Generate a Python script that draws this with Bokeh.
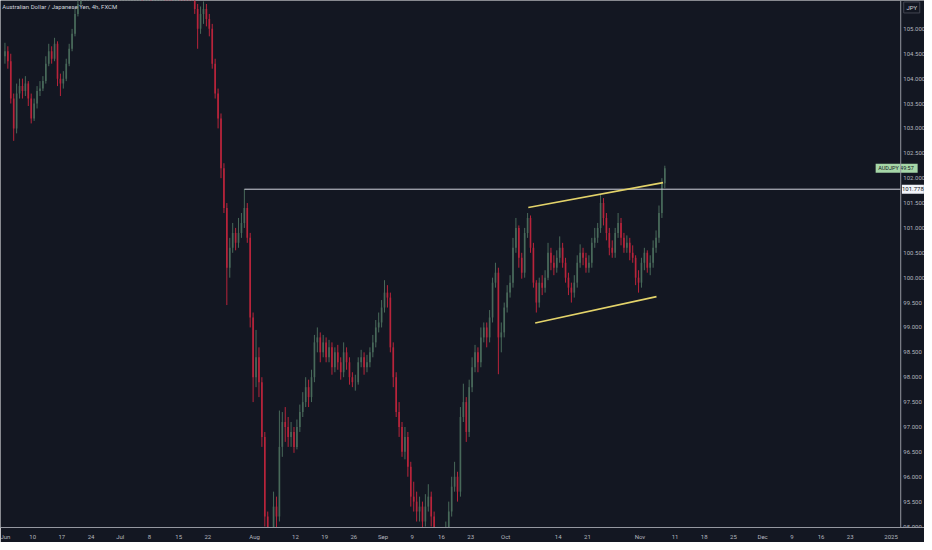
from bokeh.plotting import figure
from bokeh.models import LinearAxis, FixedTicker, Range1d, ColumnDataSource, Span
from bokeh.core.properties import value
from bokeh.embed import file_html
from bokeh.resources import INLINE

# ---- data: AUDJPY, half-day (12h) bars, 3 Jun 2024 -> 7 Nov 2024 ----
first_open = 104.45
close = [
    104.55, 104.35, 103.60, 103.00, 103.70, 103.85, 103.75, 103.90, 103.60, 103.20,
    103.50, 103.75, 103.80, 103.95, 104.30, 104.55, 104.40, 104.70, 104.00, 103.90,
    104.00, 104.30, 104.60, 104.90, 105.30, 105.50, 105.90, 106.00, 106.20, 106.30,
    106.30, 106.50, 106.40, 106.60, 106.80, 107.00, 106.90, 107.10, 107.20, 107.00,
    107.50, 107.70, 107.80, 108.00, 108.20, 108.40, 108.60, 108.50, 108.70, 108.80,
    108.60, 108.80, 109.00, 109.20, 109.30, 108.90, 108.50, 108.30, 108.60, 108.90,
    108.40, 108.00, 107.50, 106.80, 106.20, 105.40, 105.00, 105.30, 105.40, 105.20,
    105.00, 104.30, 103.70, 103.20, 102.20, 101.40, 100.20, 100.60, 100.90, 100.70,
    100.90, 101.10, 101.40, 100.80, 99.20, 98.00, 98.40, 97.90, 96.80, 95.20,
    94.00, 94.60, 95.40, 95.20, 96.60, 97.10, 97.00, 96.80, 96.90, 96.60,
    97.00, 97.30, 97.50, 97.80, 97.60, 98.00, 98.70, 98.80, 98.50, 98.70,
    98.40, 98.60, 98.20, 98.50, 98.30, 98.10, 98.50, 98.30, 98.00, 97.90,
    97.90, 98.30, 98.40, 98.20, 98.30, 98.50, 98.70, 99.00, 99.10, 99.40,
    99.70, 99.60, 98.60, 98.00, 97.30, 97.00, 96.50, 96.80, 96.20, 95.60,
    95.50, 95.30, 95.40, 95.10, 95.40, 95.60, 95.20, 94.80, 94.60, 94.70,
    94.50, 94.90, 95.30, 95.80, 96.00, 95.70, 97.20, 97.50, 96.90, 97.80,
    98.20, 98.50, 98.30, 98.80, 99.00, 98.80, 99.20, 99.90, 100.10, 98.80,
    98.90, 99.40, 99.70, 99.90, 100.60, 101.00, 100.40, 100.10, 100.90, 101.20,
    100.60, 99.90, 99.50, 99.90, 99.80, 100.00, 100.50, 100.30, 100.20, 100.40,
    100.60, 100.30, 100.00, 99.80, 99.70, 99.90, 100.30, 100.50, 100.40, 100.20,
    100.30, 100.70, 100.80, 101.00, 101.50, 101.20, 100.90, 100.60, 100.50, 100.90,
    101.10, 100.80, 100.60, 100.70, 100.50, 100.40, 100.00, 99.90, 100.30, 100.50,
    100.20, 100.30, 100.60, 100.80, 101.30, 101.90, 102.20,
]
high = [
    104.72, 104.65, 104.50, 103.70, 103.90, 104.00, 104.00, 104.05, 103.95, 103.70,
    103.60, 103.85, 103.95, 104.05, 104.45, 104.70, 104.65, 104.82, 104.75, 104.10,
    104.15, 104.40, 104.70, 105.00, 105.40, 105.65, 106.00, 106.15, 106.35, 106.45,
    106.50, 106.60, 106.65, 106.70, 106.90, 107.10, 107.15, 107.20, 107.35, 107.30,
    107.60, 107.80, 107.95, 108.10, 108.30, 108.50, 108.70, 108.75, 108.80, 108.95,
    108.90, 108.90, 109.10, 109.30, 109.40, 109.35, 109.00, 108.60, 108.70, 109.00,
    108.95, 108.50, 108.10, 107.60, 106.90, 106.30, 105.50, 105.45, 105.55, 105.50,
    105.30, 105.10, 104.40, 103.80, 103.30, 102.30, 101.50, 100.80, 101.10, 101.00,
    101.20, 101.30, 101.78, 101.50, 100.90, 99.30, 98.95, 98.60, 98.00, 96.90,
    95.30, 94.90, 95.70, 95.60, 97.33, 97.30, 97.40, 97.20, 97.10, 97.00,
    97.15, 97.45, 97.70, 98.00, 97.95, 98.15, 98.85, 99.00, 98.90, 98.85,
    98.80, 98.75, 98.70, 98.60, 98.65, 98.40, 98.70, 98.60, 98.40, 98.10,
    98.05, 98.40, 98.55, 98.50, 98.45, 98.60, 98.85, 99.15, 99.30, 99.55,
    99.95, 99.85, 99.70, 98.70, 98.10, 97.50, 97.10, 97.00, 96.90, 96.30,
    95.90, 95.70, 95.60, 95.50, 95.65, 95.85, 95.70, 95.30, 94.90, 94.90,
    94.80, 95.10, 95.50, 96.00, 96.30, 96.10, 97.40, 97.87, 97.60, 97.95,
    98.40, 98.65, 98.60, 99.00, 99.10, 99.10, 99.35, 100.00, 100.30, 100.20,
    99.10, 99.50, 99.85, 100.05, 100.80, 101.20, 101.05, 100.50, 101.00, 101.30,
    101.25, 100.70, 99.95, 100.00, 100.05, 100.15, 100.70, 100.60, 100.45, 100.55,
    100.83, 100.70, 100.40, 100.10, 99.90, 100.05, 100.45, 100.67, 100.60, 100.50,
    100.45, 100.80, 101.00, 101.10, 101.66, 101.60, 101.30, 101.00, 100.75, 101.00,
    101.30, 101.20, 100.90, 100.85, 100.80, 100.65, 100.45, 100.15, 100.40, 100.60,
    100.55, 100.45, 100.75, 100.95, 101.45, 102.00, 102.25,
]
low = [
    104.30, 104.20, 103.50, 102.75, 102.90, 103.60, 103.60, 103.65, 103.45, 103.10,
    103.15, 103.40, 103.65, 103.75, 103.90, 104.25, 104.30, 104.35, 103.85, 103.65,
    103.80, 103.95, 104.25, 104.55, 104.85, 105.25, 105.45, 105.80, 105.95, 106.10,
    106.10, 106.20, 106.30, 106.35, 106.50, 106.75, 106.80, 106.85, 107.00, 106.90,
    106.95, 107.40, 107.60, 107.70, 107.90, 108.10, 108.30, 108.40, 108.40, 108.60,
    108.50, 108.50, 108.70, 108.90, 109.10, 108.80, 108.40, 108.10, 108.20, 108.50,
    108.30, 107.90, 107.40, 106.70, 106.00, 105.30, 104.60, 104.90, 105.10, 105.05,
    104.85, 104.20, 103.60, 103.00, 102.00, 101.30, 99.45, 100.00, 100.50, 100.55,
    100.60, 100.80, 101.00, 100.70, 99.00, 97.50, 97.80, 97.60, 96.60, 95.00,
    93.00, 93.60, 94.40, 94.90, 95.10, 96.40, 96.70, 96.60, 96.60, 96.48,
    96.55, 96.90, 97.20, 97.40, 97.40, 97.50, 97.90, 98.50, 98.30, 98.40,
    98.30, 98.30, 98.05, 98.10, 98.15, 97.95, 98.00, 98.15, 97.85, 97.80,
    97.73, 97.85, 98.20, 98.05, 98.10, 98.20, 98.40, 98.60, 98.90, 99.00,
    99.30, 99.40, 98.50, 97.80, 97.20, 96.80, 96.40, 96.35, 96.00, 95.40,
    95.30, 95.10, 95.10, 94.90, 95.00, 95.30, 95.00, 94.60, 94.40, 94.50,
    94.30, 94.40, 94.80, 95.20, 95.70, 95.50, 95.60, 97.10, 96.70, 96.80,
    97.70, 98.10, 98.10, 98.20, 98.70, 98.60, 98.70, 99.10, 99.80, 98.06,
    98.50, 98.80, 99.30, 99.60, 99.80, 100.50, 100.20, 99.98, 100.00, 100.80,
    100.50, 99.80, 99.30, 99.40, 99.65, 99.70, 99.95, 100.15, 100.05, 100.10,
    100.30, 100.20, 99.90, 99.65, 99.50, 99.60, 99.80, 100.20, 100.25, 100.10,
    100.10, 100.20, 100.60, 100.70, 100.90, 101.05, 100.75, 100.45, 100.40, 100.40,
    100.80, 100.65, 100.50, 100.50, 100.35, 100.30, 99.85, 99.70, 99.80, 100.15,
    100.10, 100.05, 100.20, 100.50, 100.70, 101.20, 101.80,
]

# drawings (x in trading days since Mon 3 Jun 2024)
hline_price = 101.778
hline_start = 41.26
upper_channel_x = [89.87, 112.95]
upper_channel_y = [101.41, 101.91]
lower_channel_x = [91.05, 111.83]
lower_channel_y = [99.09, 99.62]

# time axis labels (trading-day index -> label)
x_tick_days = [0, 5, 10, 15, 20, 25, 30, 35, 43, 50, 55, 60, 65, 70, 75, 80,
               86, 95, 100, 109, 115, 120, 125, 130, 135, 140, 145, 152]
x_tick_labels = ["Jun", "10", "17", "24", "Jul", "8", "15", "22", "Aug", "12", "19", "26",
                 "Sep", "9", "16", "23", "Oct", "14", "21", "Nov", "11", "18", "25",
                 "Dec", "9", "16", "23", "2025"]
y_ticks = [95.0, 95.5, 96.0, 96.5, 97.0, 97.5, 98.0, 98.5, 99.0, 99.5, 100.0,
           100.5, 101.0, 101.5, 102.0, 102.5, 103.0, 103.5, 104.0, 104.5, 105.0]

title_text = "Australian Dollar / Japanese Yen, 4h, FXCM"
symbol = "AUDJPY"
countdown = "49:57"
currency = "JPY"

# ---- layout constants ----
BG = "#131722"
UP = "#48695a"
DOWN = "#b8243b"
TXT = "#b2b5be"
LINE = "#9598a1"
FONT = value("Roboto")
X0, X_AXIS, X1 = -0.51, 153.65, 157.72      # left edge, price-scale border, right edge
Y0, Y1 = 94.98, 105.57

n = len(close)
opens = [first_open] + close[:-1]
xs = [0.25 + 0.5 * i for i in range(n)]
colors = [UP if c >= o else DOWN for o, c in zip(opens, close)]
src = ColumnDataSource(dict(
    x=xs, open=opens, close=close, high=high, low=low,
    top=[max(o, c) for o, c in zip(opens, close)],
    bottom=[min(o, c) for o, c in zip(opens, close)],
    color=colors))

p = figure(width=924, height=542, output_backend="svg", toolbar_location=None,
           x_range=Range1d(X0, X1), y_range=Range1d(Y0, Y1),
           x_axis_type=None, y_axis_type=None,
           min_border_left=0, min_border_top=0, min_border_right=0, min_border_bottom=0)
p.background_fill_color = BG
p.border_fill_color = BG
p.outline_line_color = None
p.xgrid.visible = False
p.ygrid.visible = False

# candles
p.segment(x0="x", y0="low", x1="x", y1="high", color="color", line_width=1, source=src)
p.vbar(x="x", width=0.28, top="top", bottom="bottom", fill_color="color",
       line_color=None, source=src)

# horizontal level
p.segment(x0=[hline_start], y0=[hline_price], x1=[X_AXIS], y1=[hline_price],
          line_color="#d1d4dc", line_width=1)
# channel
p.line(upper_channel_x, upper_channel_y, line_color="#e3d36a", line_width=1.6)
p.line(lower_channel_x, lower_channel_y, line_color="#e3d36a", line_width=1.6)

# price scale (right) drawn inside the frame
p.add_layout(Span(location=X_AXIS, dimension="height", line_color=LINE, line_width=1))
p.text(x=[X_AXIS + 0.45] * len(y_ticks), y=y_ticks,
       text=["%.3f" % t for t in y_ticks], text_color=TXT, text_font=FONT,
       text_font_size="6px", text_baseline="middle", text_align="left")

# currency box
p.rect(x=[(X_AXIS + X1) / 2 - 0.15], y=[105.43], width=16, height=11,
       width_units="screen", height_units="screen",
       fill_color=BG, line_color="#434651", line_width=1)
p.text(x=[(X_AXIS + X1) / 2 - 0.15], y=[105.43], text=[currency], text_color="#d1d4dc",
       text_font=FONT, text_font_size="6px", text_baseline="middle", text_align="center")

# last price tag
p.rect(x=[X_AXIS - 0.7], y=[close[-1]], width=42, height=9,
       width_units="screen", height_units="screen",
       fill_color="#a5d6a7", line_color=None)
p.text(x=[X_AXIS - 0.7], y=[close[-1]], text=[symbol + "  " + countdown],
       text_color="#131722", text_font=FONT, text_font_size="5.5px",
       text_baseline="middle", text_align="center")

# level tag
p.rect(x=[(X_AXIS + X1) / 2 + 0.05], y=[hline_price], width=22, height=9,
       width_units="screen", height_units="screen",
       fill_color="#f0f3fa", line_color=None)
p.text(x=[(X_AXIS + X1) / 2 + 0.05], y=[hline_price], text=["%.3f" % hline_price],
       text_color="#131722", text_font=FONT, text_font_size="6px",
       text_baseline="middle", text_align="center")

# title
p.text(x=[X0 + 0.3], y=[105.44], text=[title_text], text_color="#d1d4dc",
       text_font=FONT, text_font_size="6px", text_baseline="middle", text_align="left")

# time axis
xax = LinearAxis(ticker=FixedTicker(ticks=x_tick_days))
xax.major_label_overrides = {d: lab for d, lab in zip(x_tick_days, x_tick_labels)}
xax.axis_line_color = LINE
xax.axis_line_width = 1
xax.major_tick_line_color = None
xax.minor_tick_line_color = None
xax.major_tick_out = 0
xax.major_tick_in = 0
xax.major_label_text_color = TXT
xax.major_label_text_font = "Roboto"
xax.major_label_text_font_size = "6px"
xax.major_label_standoff = 5
p.add_layout(xax, "below")

open("out.html", "w").write(file_html(p, INLINE))
